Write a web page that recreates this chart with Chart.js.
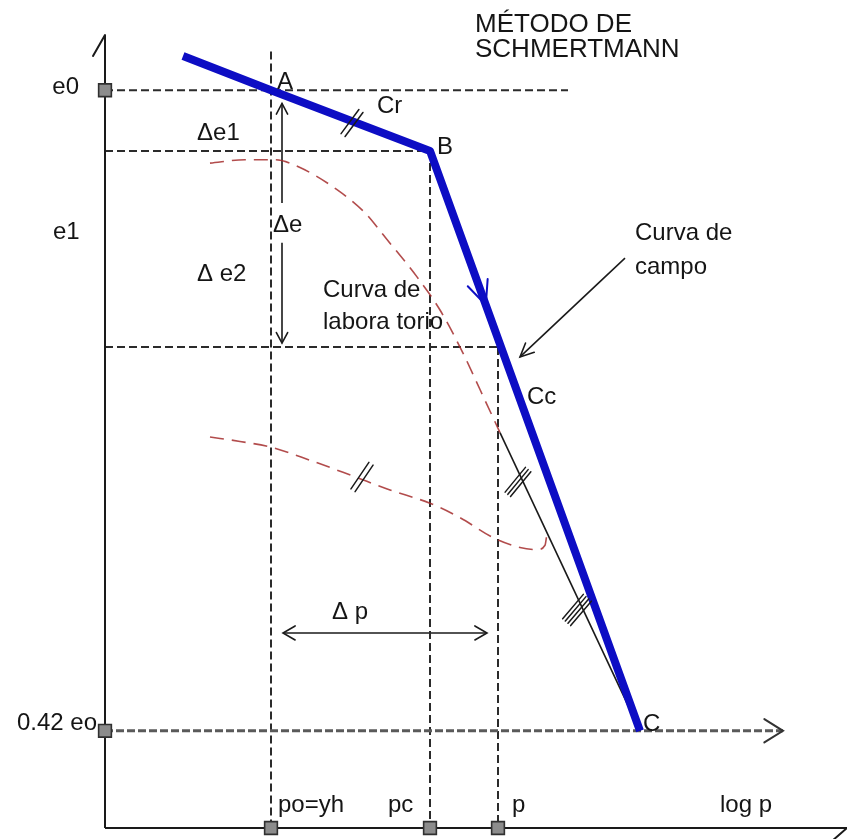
<!DOCTYPE html>
<html>
<head>
<meta charset="utf-8">
<script src="https://cdn.jsdelivr.net/npm/chart.js@4.4.1/dist/chart.umd.min.js"></script>
<style>
  html, body { margin: 0; padding: 0; background: #ffffff; overflow: hidden; }
  #c { display: block; }
</style>
</head>
<body>
<canvas id="c" width="847" height="839"></canvas>
<script>
// ---- Schmertmann construction, in (log p, e) units ----
const logPRange = [0, 7.42];
const eRange = [0.332, 1.05];

// characteristic void ratios
const e0 = 1.0;      // initial void ratio
const eB = 0.945;    // end of recompression (point B)
const e1 = 0.7675;   // void ratio under final pressure p
const eC = 0.42;     // 0.42 e0 (point C)

// characteristic pressures (log scale)
const logPo = 1.66;  // po = yh
const logPc = 3.25;  // preconsolidation pc
const logP  = 3.93;  // final pressure p
const logPC = 5.35;  // point C

// corrected field curve: start, A, B, C
const fieldLogP = [0.78, logPo, logPc, logPC];
const fieldE    = [1.031, e0, eB, eC];

// virgin compression line of the laboratory test, parallel to Cc
const virginLogP = [3.95, logPC];
const virginE    = [0.690, eC];

// laboratory curve (loading)
const labLogP = [1.05, 1.40, 1.70, 1.95, 2.32, 2.60, 2.80, 3.12, 3.35, 3.58, 3.75, 3.95];
const labE    = [0.934, 0.937, 0.937, 0.930, 0.910, 0.889, 0.867, 0.831, 0.801, 0.762, 0.729, 0.690];

// laboratory curve (unload / reload loop)
const loopLogP = [1.05, 1.35, 1.65, 2.05, 2.47, 2.85, 3.25, 3.55, 3.88, 4.15, 4.32, 4.40, 4.42];
const loopE    = [0.686, 0.682, 0.677, 0.665, 0.651, 0.638, 0.626, 0.613, 0.595, 0.586, 0.584, 0.588, 0.599];

// reference points marked on the axes
const markLogP = [0, 0, logPo, logPc, logP];
const markE    = [e0, eC, eRange[0], eRange[0], eRange[0]];

const pts = (xs, ys) => xs.map((v, i) => ({ x: v, y: ys[i] }));

// ---- styles ----
const INK = '#1a1a1a';
const GUIDE = { borderColor: '#2b2b2b', borderWidth: 2, borderDash: [8, 4] };
const BASE  = { borderColor: '#5a5a5a', borderWidth: 3, borderDash: [8, 3] };
const LAB   = { borderColor: 'rgba(165,45,45,0.85)', borderWidth: 1.6, borderDash: [14, 8], cubicInterpolationMode: 'monotone' };
const SOLID = { borderColor: INK, borderWidth: 1.6 };

function line(data, style, order) {
  return Object.assign({
    data, showLine: true, pointRadius: 0, fill: false, clip: false,
    order, tension: 0
  }, style);
}

const datasets = [
  // markers
  {
    data: pts(markLogP, markE), showLine: false, pointStyle: 'rect', pointRadius: 9,
    pointBackgroundColor: '#8c8c8c', pointBorderColor: '#303030', pointBorderWidth: 1.6,
    clip: false, order: 0
  },
  // field curve
  line(pts(fieldLogP, fieldE), { borderColor: '#0d0dc4', borderWidth: 8, borderJoinStyle: 'round' }, 1),
  // virgin line
  line(pts(virginLogP, virginE), SOLID, 2),
  // laboratory curves
  line(pts(labLogP, labE), LAB, 3),
  line(pts(loopLogP, loopE), LAB, 3),
  // axes
  line(pts([0, 0], [eRange[0], eRange[1]]), { borderColor: INK, borderWidth: 2 }, 4),
  line(pts([0, logPRange[1]], [eRange[0], eRange[0]]), { borderColor: INK, borderWidth: 2 }, 4),
  // horizontal guides
  line(pts([0, 4.63], [e0, e0]), GUIDE, 5),
  line(pts([0, logPc], [eB, eB]), GUIDE, 5),
  line(pts([0, 3.95], [e1, e1]), GUIDE, 5),
  line(pts([0, 6.78], [eC, eC]), BASE, 5),
  // vertical guides
  line(pts([logPo, logPo], [1.035, eRange[0]]), GUIDE, 5),
  line(pts([logPc, logPc], [eB, eRange[0]]), GUIDE, 5),
  line(pts([logP, logP], [e1, eRange[0]]), GUIDE, 5),
  // dimension arrows (shafts)
  line(pts([1.77, 1.77], [0.988, 0.898]), SOLID, 6),
  line(pts([1.77, 1.77], [0.862, 0.771]), SOLID, 6),
  line(pts([1.78, 3.82], [0.5086, 0.5086]), SOLID, 6),
  line(pts([5.20, 4.15], [0.848, 0.7585]), SOLID, 6)
];

// arrowheads: tip, a point behind it, barb length (px), half angle (deg), colour, width
const arrowHeads = [
  { tip: [1.77, 0.988], from: [1.77, 0.95], len: 12, ang: 28, color: INK, w: 1.6 },
  { tip: [1.77, 0.771], from: [1.77, 0.80], len: 12, ang: 28, color: INK, w: 1.6 },
  { tip: [1.78, 0.5086], from: [2.2, 0.5086], len: 14, ang: 30, color: INK, w: 1.6 },
  { tip: [3.82, 0.5086], from: [3.4, 0.5086], len: 14, ang: 30, color: INK, w: 1.6 },
  { tip: [4.15, 0.7585], from: [5.20, 0.848], len: 15, ang: 25, color: INK, w: 1.6 },
  { tip: [6.78, eC], from: [6.3, eC], len: 22, ang: 32, color: '#333', w: 2 },
  { tip: [3.808, 0.8055], from: [logPc, eB], len: 26, ang: 24, color: '#0d0dc4', w: 2 }
];
// half-arrow strokes at the axis ends: [from, to]
const axisTicks = [
  [[0, eRange[1]], [-0.12, 1.031]],
  [[logPRange[1], eRange[0]], [7.28, 0.321]]
];

// hatch marks showing parallel slopes: centre, stroke direction (px), count, length
const hatches = [
  { at: [2.47, 0.9703], dir: [20, -27], n: 2, len: 30, gap: 5 },
  { at: [2.57, 0.6498], dir: [21, -31], n: 2, len: 32, gap: 5 },
  { at: [4.13, 0.6453], dir: [23, -28], n: 3, len: 32, gap: 3.5 },
  { at: [4.72, 0.5294], dir: [22, -26], n: 4, len: 32, gap: 3.5 }
];

// text labels
const labelText = ['MÉTODO DE', 'SCHMERTMANN', 'e0', 'A', 'Cr', 'B', 'Δe1', 'e1', 'Δe', 'Δ e2',
  'Curva de', 'labora torio', 'Curva de', 'campo', 'Cc', 'C', 'Δ p', '0.42 eo',
  'po=yh', 'pc', 'p', 'log p'];
const labelAt = [
  [3.70, 1.059, 'left'], [3.70, 1.0364, 'left'], [-0.26, 1.003, 'right'], [1.72, 1.0074, 'left'],
  [2.72, 0.9857, 'left'], [3.32, 0.9486, 'left'], [0.92, 0.9613, 'left'], [-0.52, 0.8716, 'left'],
  [1.68, 0.878, 'left'], [0.92, 0.8336, 'left'], [2.18, 0.8191, 'left'], [2.18, 0.7901, 'left'],
  [5.30, 0.8707, 'left'], [5.30, 0.840, 'left'], [4.22, 0.7222, 'left'], [5.38, 0.4262, 'left'],
  [2.27, 0.5276, 'left'], [-0.08, 0.4271, 'right'], [1.73, 0.3528, 'left'], [2.83, 0.3528, 'left'],
  [4.07, 0.3528, 'left'], [6.15, 0.3528, 'left']
];

const sketch = {
  id: 'sketch',
  afterDatasetsDraw(chart) {
    const { ctx, scales: { x, y } } = chart;
    const P = (v) => [x.getPixelForValue(v[0]), y.getPixelForValue(v[1])];
    ctx.save();
    ctx.lineCap = 'round';

    arrowHeads.forEach(a => {
      const [tx, ty] = P(a.tip), [fx, fy] = P(a.from);
      const base = Math.atan2(fy - ty, fx - tx);
      const r = a.ang * Math.PI / 180;
      ctx.strokeStyle = a.color; ctx.lineWidth = a.w;
      ctx.beginPath();
      ctx.moveTo(tx + a.len * Math.cos(base + r), ty + a.len * Math.sin(base + r));
      ctx.lineTo(tx, ty);
      ctx.lineTo(tx + a.len * Math.cos(base - r), ty + a.len * Math.sin(base - r));
      ctx.stroke();
    });

    axisTicks.forEach(([a, b]) => {
      const [ax, ay] = P(a), [bx, by] = P(b);
      ctx.strokeStyle = INK; ctx.lineWidth = 2;
      ctx.beginPath(); ctx.moveTo(ax, ay); ctx.lineTo(bx, by); ctx.stroke();
    });

    hatches.forEach(h => {
      const [cx, cy] = P(h.at);
      const m = Math.hypot(h.dir[0], h.dir[1]);
      const ux = h.dir[0] / m, uy = h.dir[1] / m;
      const nx = -uy, ny = ux;
      ctx.strokeStyle = INK; ctx.lineWidth = 1.5;
      for (let i = 0; i < h.n; i++) {
        const o = (i - (h.n - 1) / 2) * h.gap;
        const ox = cx + nx * o, oy = cy + ny * o;
        ctx.beginPath();
        ctx.moveTo(ox - ux * h.len / 2, oy - uy * h.len / 2);
        ctx.lineTo(ox + ux * h.len / 2, oy + uy * h.len / 2);
        ctx.stroke();
      }
    });

    ctx.fillStyle = '#151515';
    ctx.textBaseline = 'middle';
    labelText.forEach((t, i) => {
      const [lx, ly, al] = labelAt[i];
      const [px, py] = P([lx, ly]);
      ctx.font = (i < 2 ? '26px' : '24px') + ' "Liberation Sans", Arial, sans-serif';
      ctx.textAlign = al;
      ctx.fillText(t, px, py);
    });
    ctx.restore();
  }
};

new Chart(document.getElementById('c'), {
  type: 'scatter',
  data: { datasets },
  options: {
    responsive: false,
    devicePixelRatio: 1,
    animation: false,
    events: [],
    layout: { autoPadding: false, padding: { left: 105, top: 35, right: 0, bottom: 11 } },
    scales: {
      x: { type: 'linear', min: logPRange[0], max: logPRange[1], display: false },
      y: { type: 'linear', min: eRange[0], max: eRange[1], display: false }
    },
    plugins: { legend: { display: false }, tooltip: { enabled: false }, title: { display: false } }
  },
  plugins: [sketch]
});
</script>
</body>
</html>
